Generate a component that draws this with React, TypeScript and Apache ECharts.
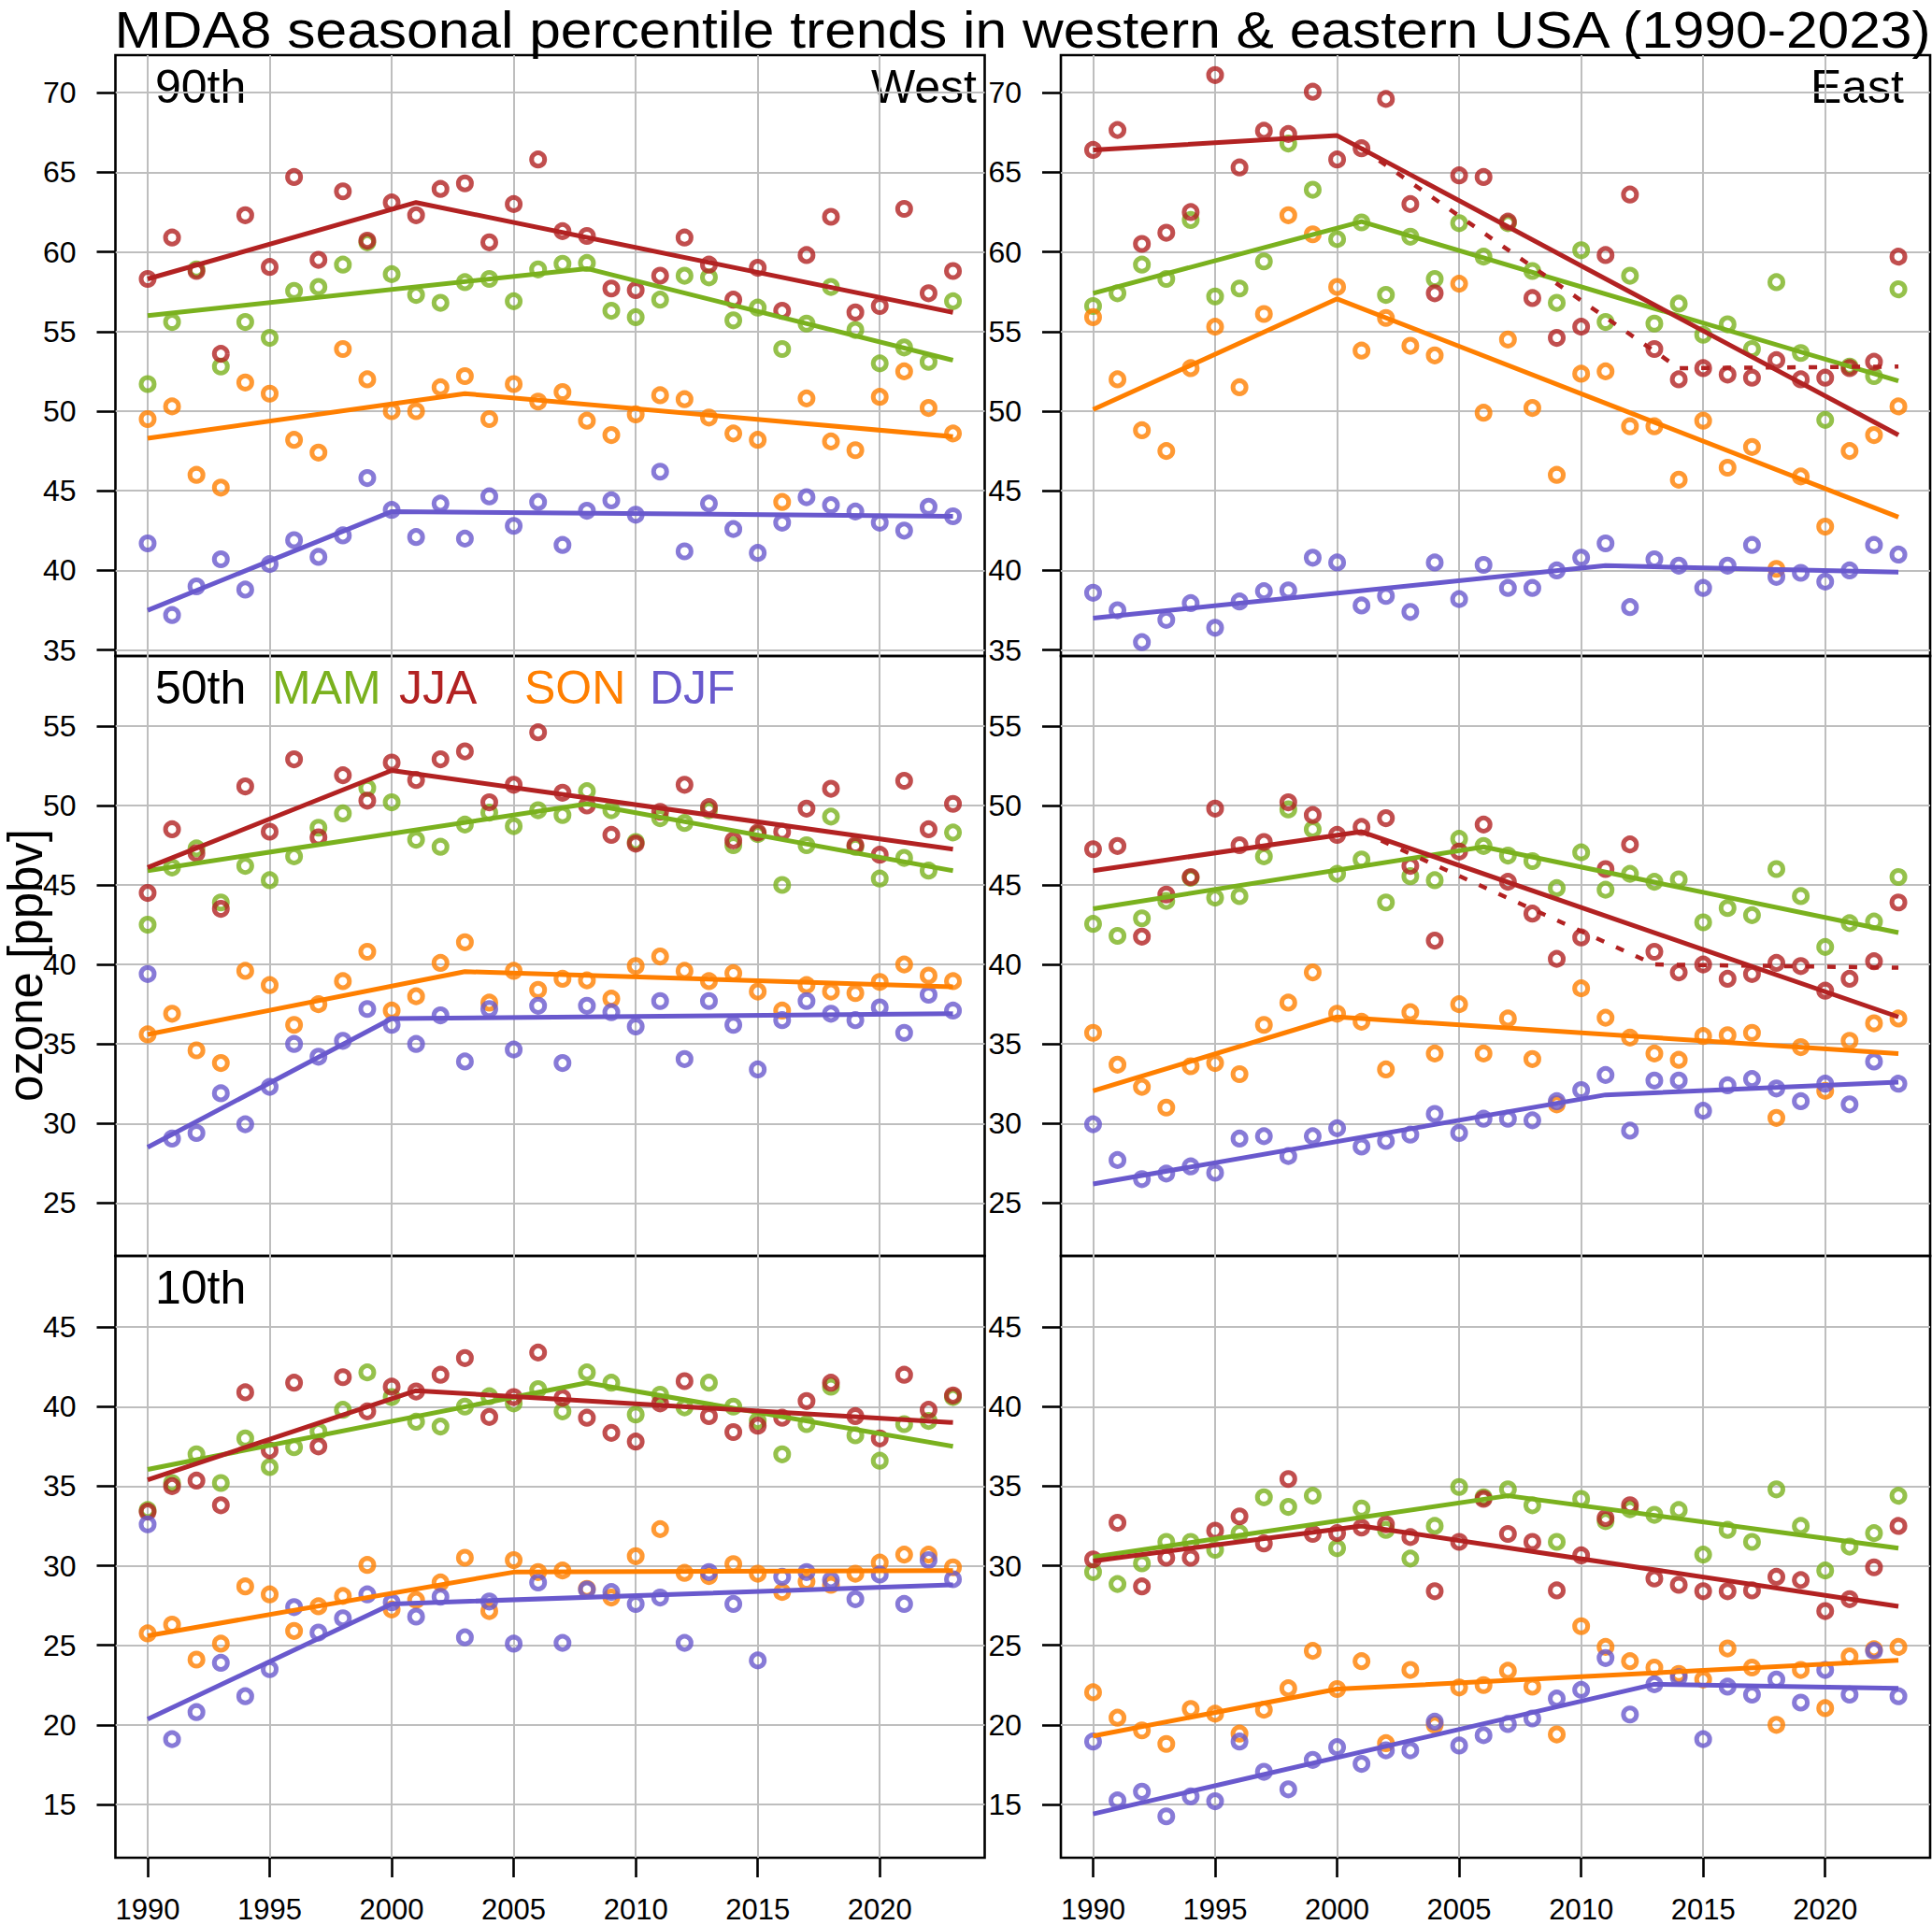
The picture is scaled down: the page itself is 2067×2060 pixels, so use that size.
import React, { useEffect, useRef } from "react";
import * as echarts from "echarts";

const YEARS = [1990, 1991, 1992, 1993, 1994, 1995, 1996, 1997, 1998, 1999, 2000, 2001, 2002, 2003, 2004, 2005, 2006, 2007, 2008, 2009, 2010, 2011, 2012, 2013, 2014, 2015, 2016, 2017, 2018, 2019, 2020, 2021, 2022, 2023];

const X_TICKS = [1990, 1995, 2000, 2005, 2010, 2015, 2020];
const Y_TICKS_90 = [35, 40, 45, 50, 55, 60, 65, 70];
const Y_TICKS_50 = [25, 30, 35, 40, 45, 50, 55];
const Y_TICKS_10 = [15, 20, 25, 30, 35, 40, 45];

const TITLE = "MDA8 seasonal percentile trends in western & eastern USA (1990-2023)";
const Y_NAME = "ozone [ppbv]";
const SEASONS = ["MAM", "JJA", "SON", "DJF"];
const PERCENTILE_LABELS = ["90th", "50th", "10th"];
const REGION_LABELS = ["West", "East"];

// ---- West 90th ----
const W90_MAM = [51.7, 55.6, 58.9, 52.8, 55.6, 54.6, 57.55, 57.8, 59.2, 60.6, 58.6, 57.3, 56.8, 58.1, 58.3, 56.9, 58.9, 59.25, 59.3, 56.3, 55.9, 57.0, 58.5, 58.4, 55.7, 56.5, 53.9, 55.5, 57.8, 55.1, 53.0, 54.0, 53.1, 56.9];
const W90_JJA = [58.3, 60.9, 58.8, 53.6, 62.3, 59.05, 64.7, 59.5, 63.8, 60.7, 63.1, 62.3, 63.95, 64.3, 60.6, 63.0, 65.8, 61.3, 61.0, 57.7, 57.6, 58.5, 60.9, 59.2, 57.0, 59.0, 56.3, 59.8, 62.2, 56.2, 56.6, 62.7, 57.4, 58.8];
const W90_SON = [49.5, 50.3, 46.0, 45.2, 51.8, 51.1, 48.2, 47.4, 53.9, 52.0, 50.0, 50.0, 51.5, 52.2, 49.5, 51.7, 50.6, 51.2, 49.4, 48.5, 49.8, 51.0, 50.75, 49.6, 48.6, 48.2, 44.3, 50.8, 48.1, 47.55, 50.9, 52.5, 50.2, 48.6];
const W90_DJF = [41.7, 37.2, 39.0, 40.7, 38.8, 40.4, 41.9, 40.85, 42.2, 45.8, 43.8, 42.1, 44.2, 42.0, 44.65, 42.8, 44.3, 41.6, 43.75, 44.4, 43.5, 46.2, 41.2, 44.2, 42.6, 41.1, 43.0, 44.6, 44.1, 43.7, 43.0, 42.5, 44.0, 43.4];
const W90_MAM_TREND = [[1990, 56.0], [2008, 58.95], [2023, 53.2]];
const W90_JJA_TREND = [[1990, 58.3], [2001, 63.1], [2023, 56.2]];
const W90_SON_TREND = [[1990, 48.3], [2003, 51.1], [2023, 48.4]];
const W90_DJF_TREND = [[1990, 37.5], [2000, 43.7], [2023, 43.4]];

// ---- East 90th ----
const E90_MAM = [56.6, 57.4, 59.2, 58.3, 62.0, 57.2, 57.7, 59.4, 66.8, 63.9, 60.8, 61.85, 57.3, 60.95, 58.3, 61.8, 59.7, 61.8, 58.8, 56.8, 60.1, 55.6, 58.5, 55.5, 56.75, 54.8, 55.45, 53.9, 58.1, 53.65, 49.45, 52.8, 52.2, 57.65];
const E90_JJA = [66.4, 67.65, 60.5, 61.2, 62.5, 71.1, 65.3, 67.6, 67.4, 70.05, 65.8, 66.5, 69.6, 63.0, 57.4, 64.8, 64.7, 61.9, 57.1, 54.6, 55.3, 59.8, 63.6, 53.9, 52.0, 52.7, 52.3, 52.1, 53.2, 52.0, 52.1, 52.7, 53.1, 59.7];
const E90_SON = [55.9, 52.0, 48.8, 47.5, 52.7, 55.3, 51.5, 56.1, 62.3, 61.1, 57.8, 53.8, 55.85, 54.1, 53.5, 58.0, 49.9, 54.5, 50.2, 46.0, 52.35, 52.5, 49.05, 49.05, 45.7, 49.4, 46.45, 47.75, 40.1, 45.9, 42.75, 47.5, 48.5, 50.3];
const E90_DJF = [38.6, 37.5, 35.5, 36.9, 37.95, 36.4, 38.05, 38.7, 38.75, 40.8, 40.5, 37.8, 38.4, 37.4, 40.5, 38.2, 40.35, 38.9, 38.9, 40.0, 40.8, 41.7, 37.7, 40.7, 40.3, 38.9, 40.3, 41.6, 39.6, 39.85, 39.3, 40.0, 41.6, 41.0];
const E90_MAM_TREND = [[1990, 57.4], [2001, 61.9], [2023, 51.9]];
const E90_JJA_TREND = [[1990, 66.4], [2000, 67.3], [2023, 48.5]];
const E90_JJA_ALT = [[2001, 66.5], [2014, 52.7], [2023, 52.8]];
const E90_SON_TREND = [[1990, 50.1], [2000, 57.05], [2023, 43.35]];
const E90_DJF_TREND = [[1990, 37.0], [2011, 40.3], [2023, 39.9]];

// ---- West 50th ----
const W50_MAM = [42.5, 46.1, 47.3, 43.9, 46.2, 45.3, 46.8, 48.6, 49.5, 51.1, 50.2, 47.85, 47.4, 48.8, 49.55, 48.7, 49.7, 49.4, 50.9, 49.7, 47.7, 49.2, 48.9, 49.7, 47.5, 48.2, 45.0, 47.5, 49.3, 47.4, 45.4, 46.7, 45.9, 48.3];
const W50_JJA = [44.5, 48.5, 47.0, 43.5, 51.2, 48.35, 52.9, 48.0, 51.9, 50.3, 52.7, 51.6, 52.9, 53.4, 50.2, 51.3, 54.6, 50.8, 50.0, 48.15, 47.6, 49.6, 51.3, 49.9, 47.8, 48.3, 48.35, 49.8, 51.05, 47.5, 46.9, 51.55, 48.5, 50.1];
const W50_SON = [35.6, 36.9, 34.6, 33.8, 39.6, 38.7, 36.2, 37.5, 38.95, 40.8, 37.1, 38.0, 40.1, 41.4, 37.6, 39.6, 38.4, 39.1, 39.0, 37.85, 39.9, 40.5, 39.6, 38.95, 39.45, 38.3, 37.1, 38.7, 38.3, 38.2, 38.9, 40.0, 39.3, 38.95];
const W50_DJF = [39.4, 29.05, 29.4, 31.9, 29.95, 32.3, 35.0, 34.2, 35.2, 37.2, 36.2, 35.0, 36.8, 33.9, 37.2, 34.65, 37.4, 33.8, 37.4, 37.0, 36.1, 37.7, 34.05, 37.7, 36.2, 33.4, 36.5, 37.7, 36.9, 36.5, 37.3, 35.7, 38.1, 37.1];
const W50_MAM_TREND = [[1990, 45.9], [2008, 50.1], [2023, 45.9]];
const W50_JJA_TREND = [[1990, 46.1], [2000, 52.2], [2023, 47.25]];
const W50_SON_TREND = [[1990, 35.6], [2003, 39.55], [2023, 38.6]];
const W50_DJF_TREND = [[1990, 28.5], [2000, 36.6], [2023, 36.9]];

// ---- East 50th ----
const E50_MAM = [42.55, 41.8, 42.9, 44.0, 45.45, 44.2, 44.3, 46.8, 49.75, 48.5, 45.7, 46.6, 43.9, 45.55, 45.3, 47.9, 47.45, 46.85, 46.5, 44.8, 47.05, 44.7, 45.7, 45.2, 45.35, 42.65, 43.55, 43.1, 46.0, 44.3, 41.1, 42.6, 42.7, 45.5];
const E50_JJA = [47.25, 47.45, 41.75, 44.4, 45.5, 49.8, 47.5, 47.7, 50.2, 49.4, 48.15, 48.65, 49.2, 46.2, 41.5, 47.1, 48.8, 45.2, 43.2, 40.35, 41.7, 46.0, 47.55, 40.8, 39.5, 40.0, 39.1, 39.4, 40.1, 39.9, 38.35, 39.1, 40.2, 43.9];
const E50_SON = [35.7, 33.7, 32.3, 31.0, 33.6, 33.8, 33.1, 36.2, 37.6, 39.5, 36.9, 36.4, 33.4, 37.0, 34.4, 37.5, 34.4, 36.6, 34.05, 31.2, 38.5, 36.65, 35.4, 34.4, 34.0, 35.5, 35.55, 35.7, 30.35, 34.8, 32.05, 35.2, 36.3, 36.6];
const E50_DJF = [29.95, 27.7, 26.5, 26.85, 27.3, 26.9, 29.05, 29.2, 27.95, 29.2, 29.7, 28.55, 28.9, 29.3, 30.6, 29.4, 30.3, 30.3, 30.2, 31.4, 32.1, 33.05, 29.55, 32.7, 32.7, 30.8, 32.4, 32.8, 32.2, 31.4, 32.5, 31.2, 33.9, 32.5];
const E50_MAM_TREND = [[1990, 43.5], [2006, 47.4], [2023, 42.0]];
const E50_JJA_TREND = [[1990, 45.9], [2001, 48.35], [2023, 36.7]];
const E50_JJA_ALT = [[2001, 48.35], [2013, 40.0], [2023, 39.8]];
const E50_SON_TREND = [[1990, 32.05], [2000, 36.7], [2023, 34.4]];
const E50_DJF_TREND = [[1990, 26.2], [2011, 31.8], [2023, 32.6]];

// ---- West 10th ----
const W10_MAM = [33.5, 35.2, 37.0, 35.2, 38.0, 36.2, 37.45, 38.45, 39.8, 42.15, 40.6, 39.05, 38.75, 40.0, 40.65, 40.2, 41.1, 39.7, 42.15, 41.5, 39.5, 40.75, 39.95, 41.5, 40.0, 39.1, 37.0, 38.9, 41.25, 38.2, 36.6, 38.9, 39.1, 40.6];
const W10_JJA = [33.4, 35.0, 35.35, 33.8, 40.9, 37.25, 41.5, 37.5, 41.85, 39.7, 41.25, 40.95, 42.0, 43.05, 39.35, 40.6, 43.4, 40.55, 39.3, 38.35, 37.8, 40.2, 41.6, 39.4, 38.4, 38.8, 39.3, 40.35, 41.5, 39.4, 38.0, 42.0, 39.8, 40.7];
const W10_SON = [25.75, 26.3, 24.1, 25.1, 28.7, 28.2, 25.9, 27.45, 28.1, 30.05, 27.25, 27.85, 28.95, 30.5, 27.15, 30.35, 29.6, 29.7, 28.55, 28.0, 30.6, 32.3, 29.55, 29.35, 30.1, 29.5, 28.35, 29.0, 28.8, 29.5, 30.2, 30.7, 30.7, 29.9];
const W10_DJF = [32.6, 19.1, 20.8, 23.9, 21.8, 23.5, 27.4, 25.8, 26.7, 28.2, 27.7, 26.8, 28.05, 25.5, 27.75, 25.1, 28.95, 25.15, 28.5, 28.35, 27.6, 28.0, 25.15, 29.6, 27.6, 24.05, 29.3, 29.6, 29.1, 27.9, 29.45, 27.6, 30.35, 29.15];
const W10_MAM_TREND = [[1990, 36.05], [2008, 41.5], [2023, 37.5]];
const W10_JJA_TREND = [[1990, 35.4], [2001, 41.0], [2023, 39.0]];
const W10_SON_TREND = [[1990, 25.6], [2005, 29.6], [2023, 29.7]];
const W10_DJF_TREND = [[1990, 20.35], [2000, 27.6], [2023, 28.8]];

// ---- East 10th ----
const E10_MAM = [29.6, 28.85, 30.15, 31.5, 31.5, 31.0, 32.05, 34.3, 33.7, 34.4, 31.1, 33.6, 32.25, 30.45, 32.5, 34.95, 34.3, 34.8, 33.8, 31.5, 34.2, 32.8, 33.55, 33.2, 33.5, 30.7, 32.25, 31.5, 34.8, 32.5, 29.7, 31.2, 32.05, 34.4];
const E10_JJA = [30.4, 32.7, 28.7, 30.5, 30.5, 32.2, 33.1, 31.4, 35.45, 32.0, 32.05, 32.4, 32.6, 31.8, 28.4, 31.5, 34.2, 32.0, 31.5, 28.45, 30.65, 33.0, 33.8, 29.2, 28.8, 28.4, 28.4, 28.45, 29.3, 29.1, 27.15, 27.9, 29.9, 32.5];
const E10_SON = [22.05, 20.45, 19.65, 18.8, 21.0, 20.7, 19.45, 20.95, 22.3, 24.65, 22.25, 24.0, 18.85, 23.45, 20.0, 22.35, 22.5, 23.4, 22.4, 19.4, 26.2, 24.9, 24.0, 23.6, 23.2, 22.85, 24.8, 23.6, 20.0, 23.45, 21.05, 24.3, 24.75, 24.9];
const E10_DJF = [18.95, 15.25, 15.8, 14.25, 15.5, 15.2, 18.95, 17.05, 15.95, 17.8, 18.6, 17.55, 18.4, 18.4, 20.2, 18.7, 19.35, 20.05, 20.4, 21.65, 22.2, 24.2, 20.65, 22.55, 23.0, 19.1, 22.4, 21.9, 22.85, 21.4, 23.45, 21.9, 24.65, 21.8];
const E10_MAM_TREND = [[1990, 30.55], [2007, 34.4], [2023, 31.1]];
const E10_JJA_TREND = [[1990, 30.3], [2001, 32.5], [2023, 27.45]];
const E10_SON_TREND = [[1990, 19.3], [2000, 22.25], [2023, 24.05]];
const E10_DJF_TREND = [[1990, 14.4], [2013, 22.55], [2023, 22.3]];

const COLORS: Record<string, string> = {
  MAM: "#7AB11E",
  JJA: "#B22222",
  SON: "#FF7F00",
  DJF: "#6959CD",
};

const FONT = "'Liberation Sans', Arial, sans-serif";

const PANELS: any[] = [
  { row: 0, col: 0, yTicks: Y_TICKS_90, yRange: [34.63, 72.35], pts: [W90_MAM, W90_JJA, W90_SON, W90_DJF], trends: [W90_MAM_TREND, W90_JJA_TREND, W90_SON_TREND, W90_DJF_TREND], alt: null },
  { row: 0, col: 1, yTicks: Y_TICKS_90, yRange: [34.63, 72.35], pts: [E90_MAM, E90_JJA, E90_SON, E90_DJF], trends: [E90_MAM_TREND, E90_JJA_TREND, E90_SON_TREND, E90_DJF_TREND], alt: E90_JJA_ALT },
  { row: 1, col: 0, yTicks: Y_TICKS_50, yRange: [21.67, 59.4], pts: [W50_MAM, W50_JJA, W50_SON, W50_DJF], trends: [W50_MAM_TREND, W50_JJA_TREND, W50_SON_TREND, W50_DJF_TREND], alt: null },
  { row: 1, col: 1, yTicks: Y_TICKS_50, yRange: [21.67, 59.4], pts: [E50_MAM, E50_JJA, E50_SON, E50_DJF], trends: [E50_MAM_TREND, E50_JJA_TREND, E50_SON_TREND, E50_DJF_TREND], alt: E50_JJA_ALT },
  { row: 2, col: 0, yTicks: Y_TICKS_10, yRange: [11.65, 49.47], pts: [W10_MAM, W10_JJA, W10_SON, W10_DJF], trends: [W10_MAM_TREND, W10_JJA_TREND, W10_SON_TREND, W10_DJF_TREND], alt: null },
  { row: 2, col: 1, yTicks: Y_TICKS_10, yRange: [11.65, 49.47], pts: [E10_MAM, E10_JJA, E10_SON, E10_DJF], trends: [E10_MAM_TREND, E10_JJA_TREND, E10_SON_TREND, E10_DJF_TREND], alt: null },
];

const COL_LEFT = [123.5, 1135];
const PANEL_W = 930;
const ROW_TOP = [59, 702, 1344];
const ROW_H = [643, 642, 644];
const X_MIN = 1988.68;
const X_MAX = 2024.3;

function buildOption() {
  const grid: any[] = [];
  const xAxis: any[] = [];
  const yAxis: any[] = [];
  const series: any[] = [];

  PANELS.forEach((p, i) => {
    grid.push({
      left: COL_LEFT[p.col],
      top: ROW_TOP[p.row],
      width: PANEL_W,
      height: ROW_H[p.row],
      show: true,
      borderColor: "#000",
      borderWidth: 2.6,
      backgroundColor: "transparent",
      containLabel: false,
      outerBoundsMode: "none",
    });
    const bottom = p.row === 2;
    xAxis.push({
      type: "value",
      gridIndex: i,
      min: X_MIN,
      max: X_MAX,
      splitNumber: 7,
      axisLine: { show: false },
      axisTick: {
        show: bottom,
        inside: false,
        length: 21,
        lineStyle: { color: "#000", width: 2.6 },
        customValues: X_TICKS,
      },
      axisLabel: {
        show: bottom,
        customValues: X_TICKS,
        fontSize: 31,
        color: "#000",
        margin: 40,
        fontFamily: FONT,
        formatter: (v: number) => String(v),
      },
      splitLine: { show: true, lineStyle: { color: "#BEBEBE", width: 2 } },
    });
    yAxis.push({
      type: "value",
      gridIndex: i,
      min: p.yRange[0],
      max: p.yRange[1],
      splitNumber: 7,
      axisLine: { show: false },
      axisTick: {
        show: true,
        inside: false,
        length: 20,
        lineStyle: { color: "#000", width: 2.6 },
        customValues: p.yTicks,
      },
      axisLabel: {
        show: true,
        customValues: p.yTicks,
        fontSize: 32,
        color: "#000",
        margin: 42,
        fontFamily: FONT,
        formatter: (v: number) => String(v),
      },
      splitLine: { show: true, lineStyle: { color: "#BEBEBE", width: 2 } },
    });

    SEASONS.forEach((s, k) => {
      const vals = p.pts[k];
      series.push({
        type: "scatter",
        name: s,
        xAxisIndex: i,
        yAxisIndex: i,
        symbol: "circle",
        symbolSize: 14,
        itemStyle: { color: "rgba(0,0,0,0)", borderColor: COLORS[s], borderWidth: 5 },
        data: YEARS.map((yr, j) => [yr, vals[j]]),
        z: 3,
        silent: true,
      });
    });
    SEASONS.forEach((s, k) => {
      series.push({
        type: "line",
        name: s + " trend",
        xAxisIndex: i,
        yAxisIndex: i,
        showSymbol: false,
        symbol: "none",
        lineStyle: { color: COLORS[s], width: 5 },
        data: p.trends[k],
        z: 4,
        silent: true,
      });
    });
    if (p.alt) {
      series.push({
        type: "line",
        name: "JJA alt trend",
        xAxisIndex: i,
        yAxisIndex: i,
        showSymbol: false,
        symbol: "none",
        lineStyle: { color: COLORS.JJA, width: 4.5, type: [9, 14] },
        data: p.alt,
        z: 4,
        silent: true,
      });
    }
  });

  const textStyleBase = { fontFamily: FONT, fill: "#000" };
  const graphic: any[] = [
    {
      type: "text",
      x: 1094,
      y: 32,
      scaleX: 1.1,
      style: { ...textStyleBase, text: TITLE, fontSize: 55, align: "center", verticalAlign: "middle" },
    },
    {
      type: "text",
      x: 27,
      y: 1033,
      rotation: Math.PI / 2,
      style: { ...textStyleBase, text: Y_NAME, fontSize: 51, align: "center", verticalAlign: "middle" },
    },
  ];
  PERCENTILE_LABELS.forEach((t, r) => {
    graphic.push({
      type: "text",
      x: 166,
      y: ROW_TOP[r] + 51 - 17.5,
      style: { ...textStyleBase, text: t, fontSize: 50, align: "left", verticalAlign: "middle" },
    });
  });
  REGION_LABELS.forEach((t, c) => {
    graphic.push({
      type: "text",
      x: c === 0 ? 1045 : 2037,
      y: ROW_TOP[0] + 51 - 17.5,
      style: { ...textStyleBase, text: t, fontSize: 50, align: "right", verticalAlign: "middle" },
    });
  });
  const legendX = [291, 427, 561, 695];
  SEASONS.forEach((s, k) => {
    graphic.push({
      type: "text",
      x: legendX[k],
      y: ROW_TOP[1] + 51 - 17.5,
      style: { ...textStyleBase, text: s, fontSize: 50, fill: COLORS[s], align: "left", verticalAlign: "middle" },
    });
  });

  return {
    animation: false,
    backgroundColor: "#ffffff",
    textStyle: { fontFamily: FONT },
    grid,
    xAxis,
    yAxis,
    series,
    graphic,
  };
}

export default function App() {
  const ref = useRef<HTMLDivElement>(null);
  useEffect(() => {
    if (!ref.current) return;
    const chart = echarts.init(ref.current, null, { renderer: "svg" });
    chart.setOption(buildOption() as any);
    return () => chart.dispose();
  }, []);
  return (
    <div
      ref={ref}
      style={{ position: "absolute", left: 0, top: 0, width: 2067, height: 2060, background: "#fff" }}
    />
  );
}
